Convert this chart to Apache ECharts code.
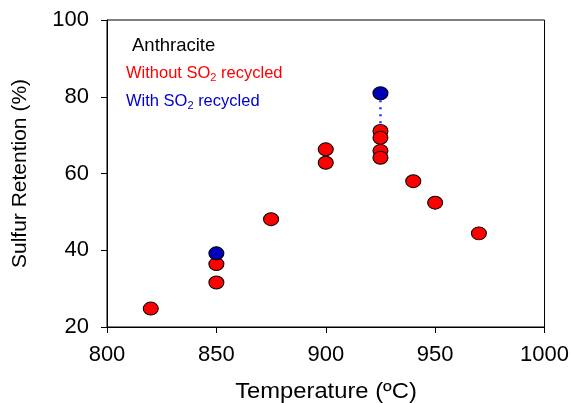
<!DOCTYPE html>
<html><head><meta charset="utf-8">
<script src="https://cdn.jsdelivr.net/npm/echarts@6/dist/echarts.min.js"></script>
<style>html,body{margin:0;padding:0;background:#fff}#c{width:572px;height:403px}</style>
</head><body><div id="c"></div>
<script>
var xTicks = [800, 850, 900, 950, 1000];
var yTicks = [20, 40, 60, 80, 100];
var withoutTemp = [820, 850, 850, 875, 900, 900, 925, 925, 925, 925, 940, 950, 970];
var withoutRet  = [24.8, 31.6, 36.4, 48.1, 66.3, 62.8, 71.1, 69.3, 65.9, 64.1, 58.0, 52.4, 44.4];
var withTemp = [850, 925];
var withRet  = [39.2, 80.9];
var linkFrom = [36.4, 71.1];

var chart = echarts.init(document.getElementById('c'));
var FONT = 'Liberation Sans, Arial, sans-serif';
var series = [];
for (var i = 0; i < withTemp.length; i++) {
  series.push({
    type: 'line', data: [[withTemp[i], withRet[i]], [withTemp[i], linkFrom[i]]],
    symbol: 'none', lineStyle: {color: '#2a2aff', width: 2.5, type: [2, 5]}, z: 1, silent: true
  });
}
series.push({
  type: 'scatter', data: withoutTemp.map(function (t, i) { return [t, withoutRet[i]]; }),
  symbol: 'circle', symbolSize: [15, 13],
  itemStyle: {color: '#ff0000', borderColor: '#000', borderWidth: 1, opacity: 1}, z: 2
});
series.push({
  type: 'scatter', data: withTemp.map(function (t, i) { return [t, withRet[i]]; }),
  symbol: 'circle', symbolSize: [15, 13],
  itemStyle: {color: '#0000b8', borderColor: '#000', borderWidth: 1, opacity: 1}, z: 3
});
function leg(y, pre, color) {
  return {type: 'text', x: 126, y: y, style: {
    text: '{a|' + pre + 'SO}{s|2}{a| recycled}', verticalAlign: 'middle',
    rich: {a: {fontFamily: FONT, fontSize: 16.5, fill: color, color: color},
           s: {fontFamily: FONT, fontSize: 11, fill: color, color: color, padding: [9, 0, 0, 0]}}
  }};
}
chart.setOption({
  animation: false,
  backgroundColor: '#fff',
  grid: {left: 107, right: 27, top: 20, bottom: 76, show: true, borderColor: '#000', borderWidth: 1},
  xAxis: {
    type: 'value', min: xTicks[0], max: xTicks[xTicks.length - 1], interval: 50,
    axisLine: {lineStyle: {color: '#000'}},
    axisTick: {inside: false, length: 6, lineStyle: {color: '#000'}},
    axisLabel: {fontFamily: FONT, fontSize: 22, color: '#000', margin: 17,
                formatter: function (v) { return String(v); }},
    splitLine: {show: false}
  },
  yAxis: {
    type: 'value', min: yTicks[0], max: yTicks[yTicks.length - 1], interval: 20,
    name: 'Sulfur Retention (%)', nameLocation: 'middle', nameGap: 76,
    nameTextStyle: {fontFamily: FONT, fontSize: 21, color: '#000'},
    axisLine: {lineStyle: {color: '#000'}},
    axisTick: {inside: false, length: 6, lineStyle: {color: '#000'}},
    axisLabel: {fontFamily: FONT, fontSize: 22, color: '#000', margin: 18},
    splitLine: {show: false}
  },
  graphic: [
    {type: 'text', x: 326, y: 392, scaleX: 1.08, style: {text: 'Temperature (ºC)', font: '22px ' + FONT, fill: '#000', align: 'center', verticalAlign: 'middle'}},
    {type: 'text', x: 132, y: 46, style: {text: 'Anthracite', font: '18.5px ' + FONT, fill: '#000', verticalAlign: 'middle'}},
    leg(73, 'Without ', '#ff0000'),
    leg(101, 'With ', '#0000cc')
  ],
  series: series
});
</script></body></html>
